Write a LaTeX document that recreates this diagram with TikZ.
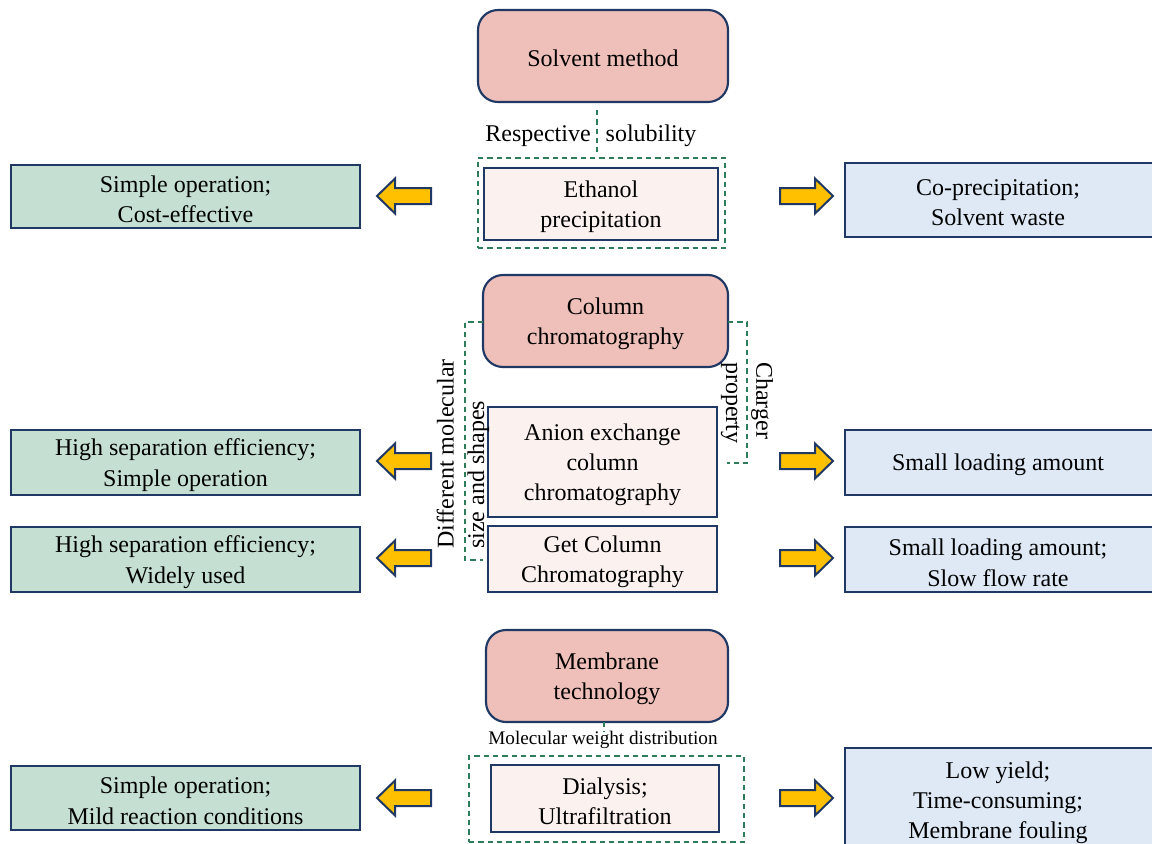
\documentclass[tikz,border=0pt]{standalone}
\usepackage{fontspec}
\setmainfont{Liberation Serif}
\usetikzlibrary{fit}
\definecolor{navy}{RGB}{31,56,100}
\definecolor{pinkfill}{RGB}{239,192,186}
\definecolor{lightpink}{RGB}{251,242,240}
\definecolor{greenfill}{RGB}{197,224,211}
\definecolor{bluefill}{RGB}{222,233,245}
\definecolor{dashgreen}{RGB}{46,125,90}
\definecolor{arrowyellow}{RGB}{255,192,0}
\tikzset{
  larrow/.pic={\path[fatarrow] (-27,0) -- (-9,-17.5) -- (-9,-8) -- (27,-8) -- (27,8) -- (-9,8) -- (-9,17.5) -- cycle;},
  rarrow/.pic={\path[fatarrow] (27,0) -- (9,-17.5) -- (9,-8) -- (-26,-8) -- (-26,8) -- (9,8) -- (9,17.5) -- cycle;}
}
\begin{document}
\begin{tikzpicture}[x=0.75pt,y=-0.75pt,
  every node/.style={font=\fontsize{18pt}{22.8pt}\selectfont, align=center, inner sep=0pt},
  base/.style={draw=navy, line width=1.6pt},
  headbox/.style={base, fill=pinkfill, rounded corners=15pt},
  methodbox/.style={base, fill=lightpink},
  probox/.style={base, fill=greenfill},
  conbox/.style={base, fill=bluefill},
  txt/.style={yshift=-2pt},
  gdash/.style={draw=dashgreen, line width=1.2pt, dash pattern=on 4pt off 3pt},
  fatarrow/.style={fill=arrowyellow, draw=navy, line width=1.5pt, line join=miter},
]
\clip (0,0) rectangle (1152,843);

% ---------- Solvent method ----------
\node[headbox, fit={(478,10)(728,102)}] (solvent) {};
\node[txt] (solvent-t) at (solvent.center) {Solvent method};
\node[gdash, fit={(478,158)(725,248)}] (ethgroup) {};
\node[methodbox, fit={(484,168)(718,240)}] (ethanol) {};
\node[txt] (ethanol-t) at (ethanol.center) {Ethanol\\precipitation};
\node[txt] (resp) at (538,133) {Respective};
\node[txt] (solub) at (651,133) {solubility};
\coordinate (s1a) at (597,110);
\coordinate (s1b) at (597,152);
\draw[gdash] (s1a) -- (s1b);
\node[probox, fit={(11,165)(360,228)}] (p1) {};
\node[txt] (p1-t) at (p1.center) {Simple operation;\\Cost-effective};
\node[conbox, fit={(845,163)(1160,237)}] (c1) {};
\node[txt] (c1-t) at (998,200) {Co-precipitation;\\Solvent waste};
\pic at (404,196) {larrow};
\pic at (806,196) {rarrow};

% ---------- Column chromatography ----------
\node[headbox, fit={(483,275)(728,367)}] (column) {};
\node[txt] (column-t) at (column.center) {Column\\chromatography};
\node[methodbox, fit={(488,407)(717,517)}] (anion) {};
\node[txt] (anion-t) at (anion.center) {Anion exchange\\column\\chromatography};
\node[methodbox, fit={(488,526)(717,592)}] (gel) {};
\node[txt] (gel-t) at (gel.center) {Get Column\\Chromatography};
\coordinate (lb1) at (483,322);
\coordinate (lb2) at (465,322);
\coordinate (lb3) at (465,560);
\coordinate (lb4) at (483,560);
\draw[gdash] (lb1) -- (lb2) -- (lb3) -- (lb4);
\coordinate (rb1) at (728,322);
\coordinate (rb2) at (747,322);
\coordinate (rb3) at (747,463);
\coordinate (rb4) at (727,463);
\draw[gdash] (rb1) -- (rb2) -- (rb3) -- (rb4);
\node[rotate=90, anchor=west, align=left] (lbl) at (463,549) {Different molecular\\size and shapes};
\node[rotate=-90, anchor=west, align=left] (rlbl) at (747,362) {Charger\\property};
\node[probox, fit={(11,430)(360,495)}] (p2) {};
\node[txt] (p2-t) at (p2.center) {High separation efficiency;\\Simple operation};
\node[probox, fit={(11,527)(360,592)}] (p3) {};
\node[txt] (p3-t) at (p3.center) {High separation efficiency;\\Widely used};
\node[conbox, fit={(845,430)(1160,495)}] (c2) {};
\node[txt] (c2-t) at (998,462) {Small loading amount};
\node[conbox, fit={(845,527)(1160,592)}] (c3) {};
\node[txt] (c3-t) at (998,560) {Small loading amount;\\Slow flow rate};
\pic at (404,461) {larrow};
\pic at (806,461) {rarrow};
\pic at (404,558) {larrow};
\pic at (806,558) {rarrow};

% ---------- Membrane technology ----------
\node[headbox, fit={(486,630)(728,722)}] (membrane) {};
\node[txt] (membrane-t) at (membrane.center) {Membrane\\technology};
\coordinate (m1a) at (604,722);
\coordinate (m1b) at (604,732);
\draw[gdash] (m1a) -- (m1b);
\node[font=\fontsize{14.4pt}{17pt}\selectfont] (mwd) at (603,740) {Molecular weight distribution};
\node[gdash, fit={(469,756)(744,842)}] (memgroup) {};
\node[methodbox, fit={(491,765)(719,832)}] (dialysis) {};
\node[txt] (dialysis-t) at (dialysis.center) {Dialysis;\\Ultrafiltration};
\node[probox, fit={(11,766)(360,830)}] (p4) {};
\node[txt] (p4-t) at (p4.center) {Simple operation;\\Mild reaction conditions};
\node[conbox, fit={(845,748)(1160,852)}] (c4) {};
\node[txt] (c4-t) at (998,800) {Low yield;\\Time-consuming;\\Membrane fouling};
\pic at (404,798) {larrow};
\pic at (806,798) {rarrow};
\end{tikzpicture}
\end{document}
